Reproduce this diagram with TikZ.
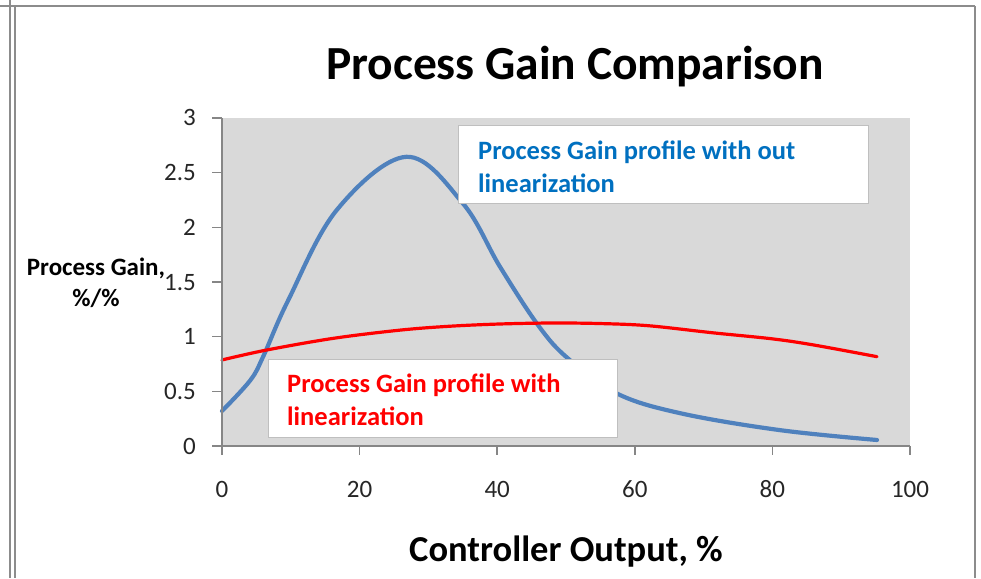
\documentclass[tikz,border=0pt]{standalone}
\usepackage{fontspec}
\setmainfont{Carlito}
\definecolor{framegray}{HTML}{8C8C8C}
\definecolor{axisgray}{HTML}{868686}
\definecolor{plotbg}{HTML}{D9D9D9}
\definecolor{curveblue}{HTML}{4F81BD}
\definecolor{legblue}{HTML}{0070C0}
\definecolor{legred}{HTML}{FF0000}
\definecolor{boxgray}{HTML}{BFBFBF}
\tikzset{
  frameline/.style={draw=framegray, line width=2pt},
  axisline/.style={draw=axisgray, line width=1.5pt},
  ticklab/.style={inner sep=0pt, font=\fontsize{25}{30}\selectfont, text=black!85},
  legbox/.style={draw=boxgray, fill=white, line width=1.3pt, inner sep=0pt, anchor=north west},
  legtext/.style={inner sep=0pt, anchor=base west, align=left, font=\bfseries\fontsize{26.5}{33}\selectfont},
  blueline/.style={draw=curveblue, line width=4.2pt, line join=round, line cap=round},
  redline/.style={draw=legred, line width=3.2pt, line join=round, line cap=round}
}
\begin{document}
\begin{tikzpicture}[x=1pt, y=-1pt]
\useasboundingbox (0,0) rectangle (981,578);
% outer frame
\draw[frameline] (0,6) -- (975,6);
\draw[frameline] (9.5,0) -- (9.5,578);
\draw[frameline] (14.5,6) -- (14.5,578);
\draw[frameline] (975,6) -- (975,578);
% plot area
\fill[plotbg] (222,118) rectangle (910,446);
% curves
\begin{scope}[shift={(222pt,-446pt)}, x=6.88pt, y=109.333pt]
\draw[blueline] plot[smooth, tension=0.6] coordinates {(0,0.32) (4.1,0.6) (6,0.82) (9.6,1.33) (16.7,2.16) (26.8,2.645) (35,2.22) (40.4,1.64) (46,1.10) (50.3,0.80) (57.4,0.48) (66.6,0.30) (81,0.146) (95.2,0.055)};
\draw[redline] plot[smooth, tension=0.55] coordinates {(0,0.787) (6.5,0.878) (16.2,0.985) (25.9,1.06) (33,1.095) (40.4,1.116) (48,1.125) (55,1.12) (62,1.10) (71.4,1.035) (80,0.98) (86,0.924) (95.2,0.817)};
\end{scope}
% axes
\draw[axisline] (222,118) -- (222,446) -- (910,446);
\foreach \i/\lab in {0/0,1/0.5,2/1,3/1.5,4/2,5/2.5,6/3}{
  \draw[axisline] (212,446-54.667*\i) -- (222,446-54.667*\i);
  \node[ticklab, anchor=base east] (ylab\i) at (196,454-54.667*\i) {\lab};
}
\foreach \i/\lab in {0/0,1/20,2/40,3/60,4/80,5/100}{
  \draw[axisline] (222+137.6*\i,446) -- (222+137.6*\i,455);
  \node[ticklab, anchor=base] (xlab\i) at (222+137.6*\i,497) {\lab};
}
% legend boxes
\node[legbox, minimum width=410pt, minimum height=78pt] (bluebox) at (458,125) {};
\node[legtext, text=legblue] (bluetext) at (478,192) {Process Gain profile with out\\linearization};
\node[legbox, minimum width=349pt, minimum height=78pt] (redbox) at (268,359) {};
\node[legtext, text=legred] (redtext) at (287,425) {Process Gain profile with\\linearization};
% titles
\node[inner sep=0pt, anchor=base, font=\bfseries\fontsize{47.5}{57}\selectfont] (title) at (575,79) {Process Gain Comparison};
\node[inner sep=0pt, anchor=base, font=\bfseries\fontsize{36.5}{44}\selectfont] (xtitle) at (566,561) {Controller Output, \%};
\node[inner sep=0pt, anchor=base, align=center, font=\bfseries\fontsize{25}{31}\selectfont] (ytitle) at (96,306) {Process Gain,\\\%/\%};
\end{tikzpicture}
\end{document}
